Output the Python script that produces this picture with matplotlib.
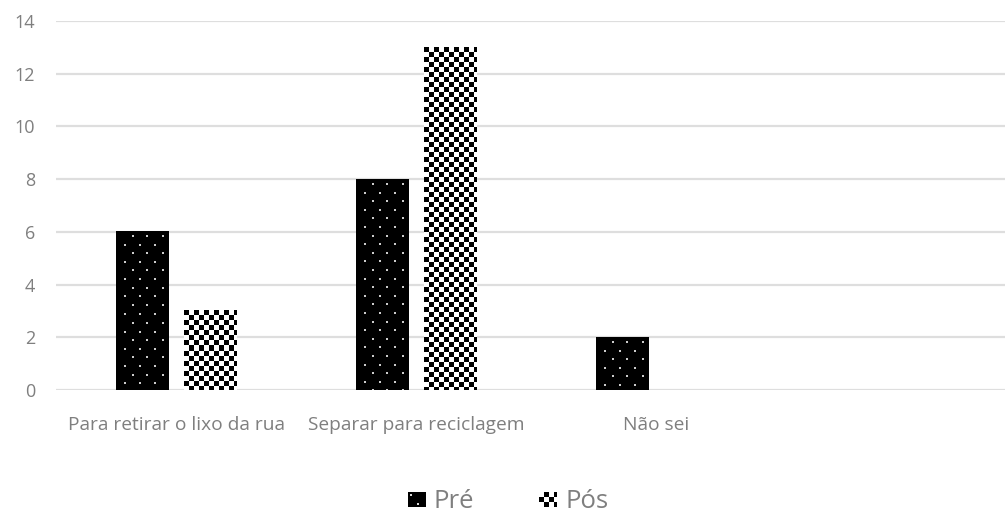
import numpy as np
import matplotlib
matplotlib.use("Agg")
import matplotlib.pyplot as plt
from matplotlib.patches import Rectangle
from matplotlib.legend_handler import HandlerBase
from matplotlib.image import BboxImage
from matplotlib.transforms import Bbox, TransformedBbox

categories = ["Para retirar o lixo da rua", "Separar para reciclagem", "Não sei"]
series_names = ["Pré", "Pós"]
pre_values = [6, 8, 2]
pos_values = [3, 13, 0]
y_ticks = [0, 2, 4, 6, 8, 10, 12, 14]

TEXT = "#7f7f7f"
GRID = "#dedede"
FONT = "Open Sans"

plt.rcParams["font.family"] = [FONT, "DejaVu Sans"]

W, H, DPI = 1005, 513, 100
fig = plt.figure(figsize=(W / DPI, H / DPI), dpi=DPI)
ax = fig.add_axes([56 / W, 1 - 390 / H, 1 - 56 / W, (390 - 21) / H])


def dots_pattern(h, w):
    """Black fill with staggered white dots."""
    img = np.zeros((h, w))
    row_step, col_step = 8.6, 15.0
    r = 0
    y = 4.0
    while y < h:
        x0 = 15.5 if r % 2 == 0 else 8.0
        x = x0
        while x < w - 1:
            yi, xi = int(round(y)), int(round(x))
            img[yi:yi + 2, xi:xi + 2] = 0.8
            x += col_step
        y += row_step
        r += 1
    return img


def checker_pattern(h, w, cell=5):
    yy, xx = np.mgrid[0:h, 0:w]
    return (((yy // cell) + (xx // cell)) % 2).astype(float)


patterns = {"Pré": dots_pattern, "Pós": checker_pattern}

x = np.arange(len(categories))
bar_w = 0.22
offset = 0.142
xlim = (-0.5, (1005 - 176) / 240)

ax.set_xlim(*xlim)
ax.set_ylim(0, 14)

bar_groups = []
for name, vals, off in [("Pré", pre_values, -offset), ("Pós", pos_values, offset)]:
    bars = ax.bar(x + off, vals, width=bar_w, color="none", edgecolor="none", zorder=3)
    bar_groups.append((name, bars))

# fill every bar with its pixel pattern
for name, bars in bar_groups:
    for b in bars:
        hgt = b.get_height()
        if hgt <= 0:
            continue
        x0, y0 = b.get_x(), b.get_y()
        x1, y1 = x0 + b.get_width(), y0 + hgt
        (px0, py0), (px1, py1) = ax.transData.transform([(x0, y0), (x1, y1)])
        wpx, hpx = int(round(px1 - px0)), int(round(py1 - py0))
        img = patterns[name](hpx, wpx)
        ax.imshow(img, cmap="gray", vmin=0, vmax=1, extent=(x0, x1, y0, y1),
                  origin="upper", interpolation="nearest", aspect="auto", zorder=3)

ax.set_xlim(*xlim)
ax.set_ylim(0, 14)

ax.set_yticks(y_ticks)
ax.set_yticklabels([str(v) for v in y_ticks])
ax.set_xticks(x)
ax.set_xticklabels(categories)
ax.yaxis.grid(True, color=GRID, linewidth=1.6, zorder=0)
ax.set_axisbelow(True)
for s in ax.spines.values():
    s.set_visible(False)
ax.tick_params(axis="both", length=0, colors=TEXT)
ax.tick_params(axis="y", labelsize=13, pad=15)
ax.tick_params(axis="x", labelsize=13.8, pad=19)


class PatternHandler(HandlerBase):
    def __init__(self, name):
        super().__init__()
        self.name = name

    def create_artists(self, legend, orig_handle, xdescent, ydescent,
                       width, height, fontsize, trans):
        bb = TransformedBbox(Bbox.from_bounds(-xdescent, -ydescent, width, height), trans)
        w_px = max(int(round(width * DPI / 72)), 2)
        h_px = max(int(round(height * DPI / 72)), 2)
        if self.name == "Pré":
            arr = np.zeros((h_px, w_px))
            arr[h_px - 4:h_px - 2, w_px // 2:w_px // 2 + 2] = 0.85
            arr[2:4, 2:4] = 0.85
        else:
            arr = 1 - checker_pattern(h_px, w_px, cell=max(int(np.ceil(h_px / 3)), 1))
        im = BboxImage(bb, cmap="gray", norm=matplotlib.colors.Normalize(0, 1),
                       interpolation="nearest")
        im.set_data(arr)
        return [im]


handles = [Rectangle((0, 0), 1, 1) for _ in series_names]
fig.legend(handles, series_names, loc="center", bbox_to_anchor=(508 / W, 1 - 502 / H),
           ncol=2, frameon=False, fontsize=18.5, labelcolor=TEXT,
           handlelength=0.7, handleheight=0.52, handletextpad=0.3, columnspacing=2.55,
           handler_map={h: PatternHandler(n) for h, n in zip(handles, series_names)})

fig.savefig("out.png", dpi=DPI, facecolor="white")
